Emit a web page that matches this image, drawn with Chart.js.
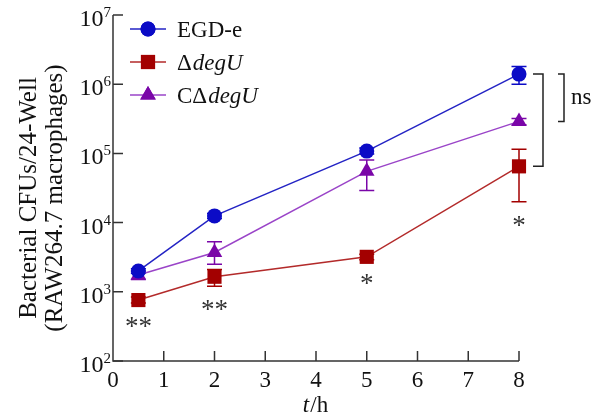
<!DOCTYPE html>
<html>
<head>
<meta charset="utf-8">
<script src="https://cdn.jsdelivr.net/npm/chart.js@4.4.1/dist/chart.umd.min.js"></script>
<style>
  html, body { margin: 0; padding: 0; background: #fff; }
  #wrap { width: 603px; height: 416px; }
</style>
</head>
<body>
<div id="wrap"><canvas id="cfuChart" width="603" height="416"></canvas></div>
<script>
// dados
const hours = [0.5, 2, 5, 8];
const xTicks = [0, 1, 2, 3, 4, 5, 6, 7, 8];
const yExponents = [2, 3, 4, 5, 6, 7];

const egdValues = [2000, 12500, 108000, 1400000];
const egdLow = [1850, 11500, 98000, 1000000];
const egdHigh = [2150, 13500, 120000, 1800000];

const degUValues = [760, 1650, 3200, 65000];
const degULow = [690, 1200, 2900, 20000];
const degUHigh = [840, 2100, 3500, 115000];

const cDegUValues = [1750, 3700, 55000, 290000];
const cDegULow = [1500, 2500, 29000, 260000];
const cDegUHigh = [2000, 5300, 80000, 320000];

const stars = ["**", "**", "*", "*"];

const FONT = '"Liberation Serif", "Times New Roman", serif';
const AXIS = "#333333";

const series = [
  { label: "EGD-e", pre: "EGD-e", ital: "", values: egdValues, low: egdLow, high: egdHigh,
    color: "#0b0bc6", line: "#2323c4", style: "circle", radius: 7.5 },
  { label: "ΔdegU", pre: "Δ", ital: "degU", values: degUValues, low: degULow, high: degUHigh,
    color: "#a30000", line: "#b32a2a", style: "rect", radius: 10 },
  { label: "CΔdegU", pre: "CΔ", ital: "degU", values: cDegUValues, low: cDegULow, high: cDegUHigh,
    color: "#7a06a8", line: "#9a44c8", style: "triangle", radius: 9 },
];

function toPoints(values) {
  return hours.map((h, i) => ({ x: h, y: values[i] }));
}

// barras de erro, eixos, legenda e anotações
const overlay = {
  id: "overlay",
  beforeDatasetsDraw(chart) {
    const ctx = chart.ctx;
    const xs = chart.scales.x;
    const ys = chart.scales.y;
    const area = chart.chartArea;
    ctx.save();

    // barras de erro
    series.forEach((s) => {
      ctx.strokeStyle = s.color;
      ctx.lineWidth = 1.5;
      hours.forEach((h, i) => {
        const px = xs.getPixelForValue(h);
        const top = ys.getPixelForValue(s.high[i]);
        const bot = ys.getPixelForValue(s.low[i]);
        ctx.beginPath();
        ctx.moveTo(px, top);
        ctx.lineTo(px, bot);
        ctx.moveTo(px - 7.5, top);
        ctx.lineTo(px + 7.5, top);
        ctx.moveTo(px - 7.5, bot);
        ctx.lineTo(px + 7.5, bot);
        ctx.stroke();
      });
    });

    // eixos
    ctx.strokeStyle = AXIS;
    ctx.lineWidth = 1.5;
    ctx.beginPath();
    ctx.moveTo(area.left, area.top);
    ctx.lineTo(area.left, area.bottom);
    ctx.lineTo(area.right, area.bottom);
    ctx.stroke();

    ctx.beginPath();
    yExponents.forEach((e) => {
      const py = ys.getPixelForValue(Math.pow(10, e));
      ctx.moveTo(area.left, py);
      ctx.lineTo(area.left + 10, py);
    });
    xTicks.forEach((t) => {
      if (t === 0) return;
      const px = xs.getPixelForValue(t);
      ctx.moveTo(px, area.bottom);
      ctx.lineTo(px, area.bottom - 10);
    });
    ctx.stroke();

    // rótulos dos ticks
    ctx.fillStyle = "#111";
    ctx.textBaseline = "alphabetic";
    yExponents.forEach((e) => {
      const py = ys.getPixelForValue(Math.pow(10, e));
      ctx.font = "15px " + FONT;
      ctx.textAlign = "right";
      const ex = String(e);
      const ew = ctx.measureText(ex).width;
      ctx.fillText(ex, 111, py + 2);
      ctx.font = "24px " + FONT;
      ctx.fillText("10", 111 - ew, py + 11);
    });
    ctx.font = "23px " + FONT;
    ctx.textAlign = "center";
    xTicks.forEach((t) => {
      ctx.fillText(String(t), xs.getPixelForValue(t), 387);
    });

    // título do eixo x
    ctx.textAlign = "left";
    ctx.font = "italic 23px " + FONT;
    const tw = ctx.measureText("t").width;
    ctx.font = "23px " + FONT;
    const hw = ctx.measureText("/h").width;
    const x0 = 315 - (tw + hw) / 2;
    ctx.font = "italic 23px " + FONT;
    ctx.fillText("t", x0, 412);
    ctx.font = "23px " + FONT;
    ctx.fillText("/h", x0 + tw + 1, 412);

    // título do eixo y
    ctx.save();
    ctx.translate(36, 198);
    ctx.rotate(-Math.PI / 2);
    ctx.textAlign = "center";
    ctx.font = "25px " + FONT;
    ctx.fillText("Bacterial CFUs/24-Well", 0, 0);
    ctx.fillText("(RAW264.7 macrophages)", 0, 26);
    ctx.restore();

    ctx.restore();
  },
  afterDatasetsDraw(chart) {
    const ctx = chart.ctx;
    const xs = chart.scales.x;
    const ys = chart.scales.y;
    ctx.save();

    // legenda
    series.forEach((s, i) => {
      const cy = 29 + i * 33;
      ctx.strokeStyle = s.line;
      ctx.lineWidth = 1.5;
      ctx.beginPath();
      ctx.moveTo(130, cy);
      ctx.lineTo(166, cy);
      ctx.stroke();
      ctx.fillStyle = s.color;
      Chart.helpers.drawPoint(ctx, { pointStyle: s.style, radius: s.radius, borderWidth: 0 }, 148, cy);
      ctx.fill();
      ctx.fillStyle = "#111";
      ctx.textAlign = "left";
      ctx.textBaseline = "alphabetic";
      ctx.font = "23px " + FONT;
      ctx.fillText(s.pre, 177, cy + 8);
      const pw = ctx.measureText(s.pre).width;
      ctx.font = "italic 23px " + FONT;
      ctx.fillText(s.ital, 177 + pw + 1, cy + 8);
    });

    // asteriscos abaixo do mutante
    ctx.fillStyle = "#333";
    ctx.font = "27px " + FONT;
    ctx.textAlign = "center";
    ctx.textBaseline = "middle";
    hours.forEach((h, i) => {
      const px = xs.getPixelForValue(h);
      const py = Math.max(ys.getPixelForValue(degULow[i]) + 25, ys.getPixelForValue(degUValues[i]) + 28);
      ctx.fillText(stars[i], px, py);
    });

    // colchetes de significância em t = 8
    const last = hours.length - 1;
    const yTop = ys.getPixelForValue(egdValues[last]);
    const yRed = ys.getPixelForValue(degUValues[last]);
    const yPur = ys.getPixelForValue(cDegUValues[last]);
    ctx.strokeStyle = "#222";
    ctx.lineWidth = 1.5;
    ctx.beginPath();
    ctx.moveTo(533, yTop);
    ctx.lineTo(543, yTop);
    ctx.lineTo(543, yRed);
    ctx.lineTo(533, yRed);
    ctx.moveTo(558, yTop);
    ctx.lineTo(564, yTop);
    ctx.lineTo(564, yPur);
    ctx.lineTo(558, yPur);
    ctx.stroke();
    ctx.fillStyle = "#111";
    ctx.textAlign = "left";
    ctx.textBaseline = "middle";
    ctx.font = "23px " + FONT;
    ctx.fillText("ns", 571, (yTop + yPur) / 2);

    ctx.restore();
  },
};

new Chart(document.getElementById("cfuChart"), {
  type: "scatter",
  data: {
    datasets: series.map((s) => ({
      label: s.label,
      data: toPoints(s.values),
      showLine: true,
      borderColor: s.line,
      borderWidth: 1.5,
      backgroundColor: s.color,
      pointStyle: s.style,
      pointRadius: s.radius,
      pointBorderWidth: 0,
      pointBackgroundColor: s.color,
      clip: false,
    })),
  },
  options: {
    responsive: false,
    animation: false,
    devicePixelRatio: 1,
    layout: { padding: { left: 113, top: 15, right: 84, bottom: 55 } },
    plugins: { legend: { display: false }, tooltip: { enabled: false } },
    scales: {
      x: { type: "linear", min: 0, max: 8, display: false },
      y: { type: "logarithmic", min: 100, max: 10000000, display: false },
    },
  },
  plugins: [overlay],
});
</script>
</body>
</html>
